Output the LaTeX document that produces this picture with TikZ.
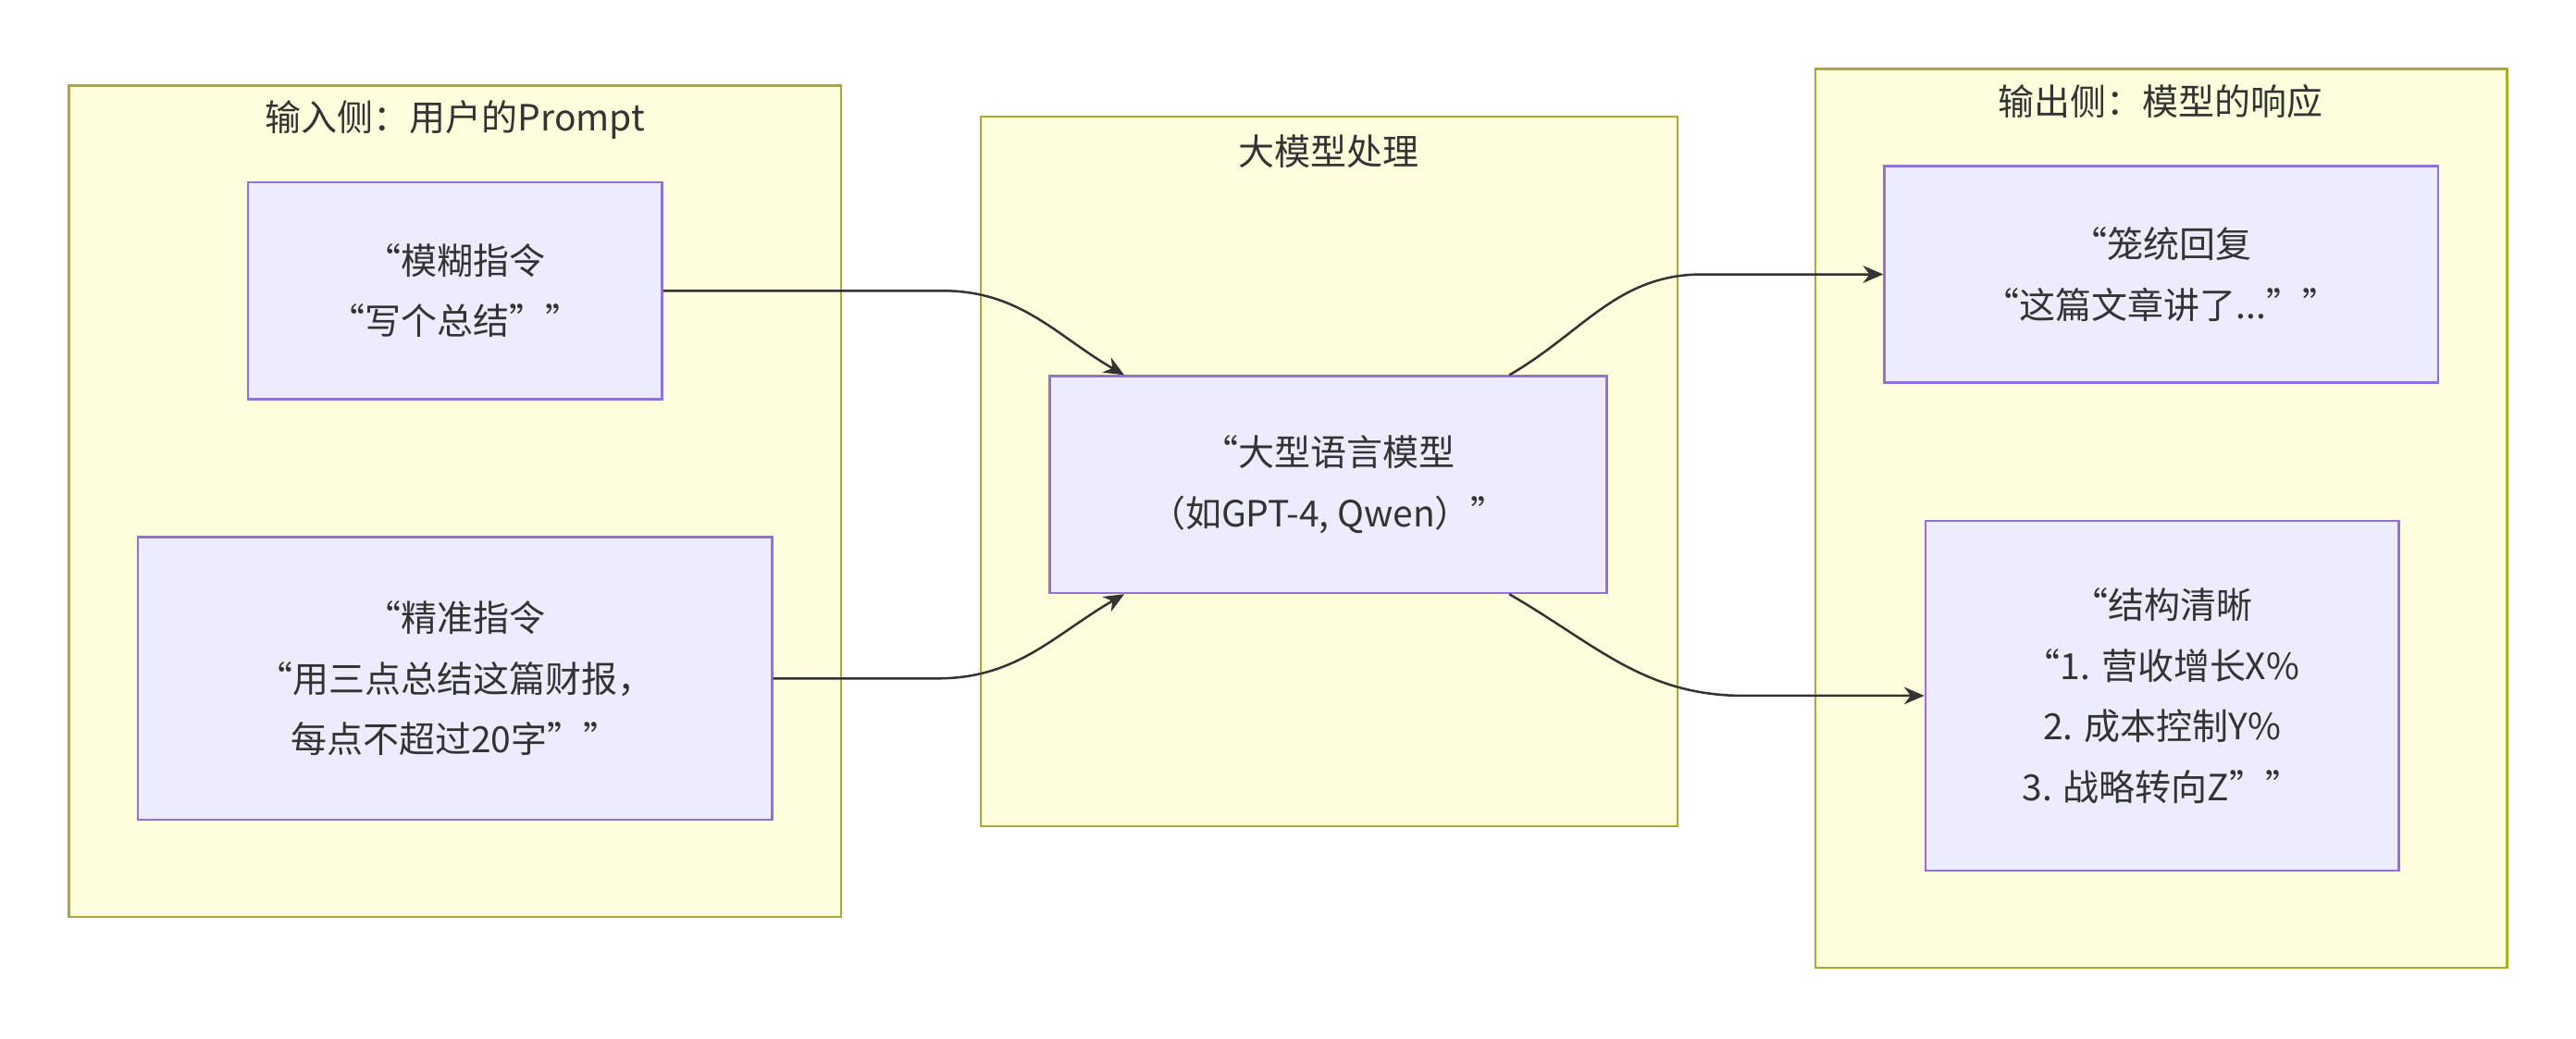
\documentclass[tikz,border=0pt]{standalone}
\usepackage{fontspec}
\setmainfont{Noto Sans CJK SC}
\usetikzlibrary{positioning,calc,arrows.meta}
\definecolor{grpfill}{HTML}{FFFFDE}
\definecolor{grpline}{HTML}{AAAA33}
\definecolor{boxfill}{HTML}{ECECFF}
\definecolor{boxline}{HTML}{9370DB}
\definecolor{txt}{HTML}{333333}
\begin{document}
\begin{tikzpicture}[x=0.02cm,y=-0.02cm,
  grp/.style = {draw=grpline, fill=grpfill, line width=0.8pt},
  box/.style = {draw=boxline, fill=boxfill, line width=0.8pt, align=center,
                text=txt, inner sep=0pt, font=\fontsize{12.5}{21}\selectfont},
  title/.style = {text=txt, font=\fontsize{12.5}{15}\selectfont},
  link/.style = {draw=txt, line width=0.8pt, -{Stealth[length=7pt,width=6pt]}}
                ]
    \useasboundingbox[fill=white] (0,0) rectangle (1568,632);
    % groups
    \draw[grp] (42,52) rectangle (512,558);
    \draw[grp] (597,71) rectangle (1021,503);
    \draw[grp] (1105,42) rectangle (1526,589);
    \node[title] (tin) at (277,73) {输入侧：用户的Prompt};
    \node[title] (tmid) at (809,92) {大模型处理};
    \node[title] (tout) at (1315,62) {输出侧：模型的响应};
    % nodes
    \node[box, minimum width=252*0.02cm, minimum height=132*0.02cm] (vague) at (277,177)
        {“模糊指令\\“写个总结””};
    \node[box, minimum width=386*0.02cm, minimum height=172*0.02cm] (exact) at (277,413)
        {“精准指令\\“用三点总结这篇财报，\\每点不超过20字””};
    \node[box, minimum width=339*0.02cm, minimum height=132*0.02cm] (llm) at (808.5,295)
        {“大型语言模型\\（如GPT-4, Qwen）”};
    \node[box, minimum width=337*0.02cm, minimum height=132*0.02cm] (loose) at (1315.5,167)
        {“笼统回复\\“这篇文章讲了...””};
    \node[box, minimum width=288*0.02cm, minimum height=213*0.02cm] (clear) at (1316,423.5)
        {“结构清晰\\“1. 营收增长X\%\\2. 成本控制Y\%\\3. 战略转向Z””};
    % links
    \draw[link] (vague.east) -- ($(vague.east)+(170,0)$) to[out=0,in=150] ($(llm.north west)+(46,0)$);
    \draw[link] (exact.east) -- ($(exact.east)+(100,0)$) to[out=0,in=210] ($(llm.south west)+(46,0)$);
    \draw[link] ($(llm.north east)+(-60,0)$) to[out=30,in=180] ($(loose.west)+(-110,0)$) -- (loose.west);
    \draw[link] ($(llm.south east)+(-60,0)$) to[out=-30,in=180] ($(clear.west)+(-110,0)$) -- (clear.west);
\end{tikzpicture}
\end{document}
